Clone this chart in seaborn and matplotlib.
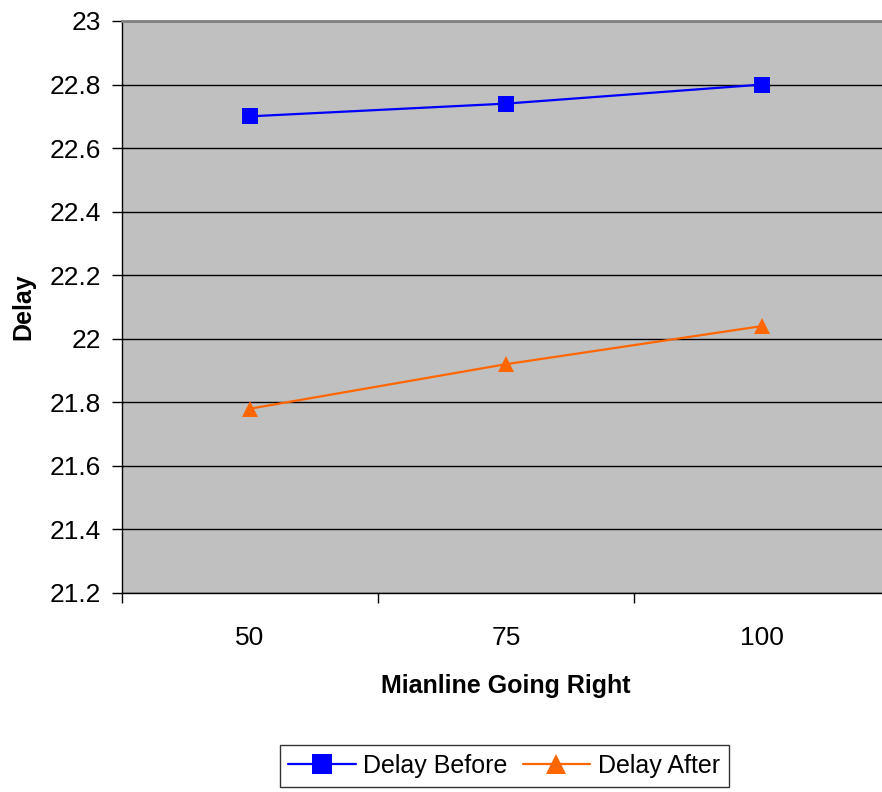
import matplotlib
matplotlib.use("Agg")
import matplotlib.pyplot as plt
import matplotlib.ticker as mticker
import seaborn as sns
import pandas as pd

categories = ["50", "75", "100"]
delay_before = [22.70, 22.74, 22.80]
delay_after = [21.78, 21.92, 22.04]
y_ticks = [21.2, 21.4, 21.6, 21.8, 22.0, 22.2, 22.4, 22.6, 22.8, 23.0]

sns.set_style("white")
plt.rcParams["font.family"] = ["Liberation Sans", "DejaVu Sans"]
plt.rcParams.update({
    "text.color": "black",
    "axes.labelcolor": "black",
    "xtick.color": "black",
    "ytick.color": "black",
})

df = pd.DataFrame({
    "pos": list(range(len(categories))) * 2,
    "Delay": delay_before + delay_after,
    "series": ["Delay Before"] * len(categories) + ["Delay After"] * len(categories),
})

fig = plt.figure(figsize=(8.82, 7.92), dpi=100)
ax = fig.add_axes([122 / 882, 1 - 593 / 792, (890 - 122) / 882, (593 - 21) / 792])
ax.set_facecolor("#C0C0C0")

sns.lineplot(
    data=df, x="pos", y="Delay", hue="series", style="series",
    palette={"Delay Before": "#0000FF", "Delay After": "#FF6600"},
    markers={"Delay Before": "s", "Delay After": "^"},
    dashes=False, markersize=12, linewidth=1.6, markeredgewidth=0,
    ax=ax, legend=False,
)

ax.set_ylim(21.2, 23.0)
ax.set_xlim(-0.5, 2.5)
ax.set_yticks(y_ticks)
ax.yaxis.set_major_formatter(mticker.FuncFormatter(lambda v, _: f"{v:g}"))
ax.grid(axis="y", color="black", linewidth=1)
ax.set_axisbelow(True)

# category boundaries get tick marks, category centres get the labels
ax.set_xticks([-0.5, 0.5, 1.5, 2.5])
ax.set_xticklabels([])
ax.set_xticks(range(len(categories)), minor=True)
ax.set_xticklabels(categories, minor=True)
ax.tick_params(axis="x", which="major", bottom=True, length=7, width=1, color="black", direction="out")
ax.tick_params(axis="x", which="minor", bottom=True, length=0, pad=24, labelsize=19)
ax.tick_params(axis="y", left=True, length=7, width=1, color="black", direction="out", labelsize=19, pad=8)

for side in ["left", "bottom"]:
    ax.spines[side].set_color("black")
    ax.spines[side].set_linewidth(1)
ax.spines["top"].set_color("#808080")
ax.spines["top"].set_linewidth(2)
ax.spines["right"].set_visible(False)

ax.set_xlabel("Mianline Going Right", fontsize=18, fontweight="bold", labelpad=17)
ax.set_ylabel("Delay", fontsize=18, fontweight="bold")
ax.yaxis.set_label_coords(-0.113, 0.5)

handles = [
    plt.Line2D([], [], color="#0000FF", marker="s", markersize=14, markeredgewidth=0, linewidth=1.6),
    plt.Line2D([], [], color="#FF6600", marker="^", markersize=15, markeredgewidth=0, linewidth=1.6),
]
leg = fig.legend(
    handles, ["Delay Before", "Delay After"], loc="center",
    bbox_to_anchor=(504 / 882, 1 - 766 / 792), ncol=2, fontsize=18,
    frameon=True, fancybox=False, edgecolor="black", handlelength=2.7,
    columnspacing=0.6, handletextpad=0.3, borderpad=0.35, borderaxespad=0,
)
leg.get_frame().set_linewidth(1)

fig.savefig("out.png", dpi=100)
